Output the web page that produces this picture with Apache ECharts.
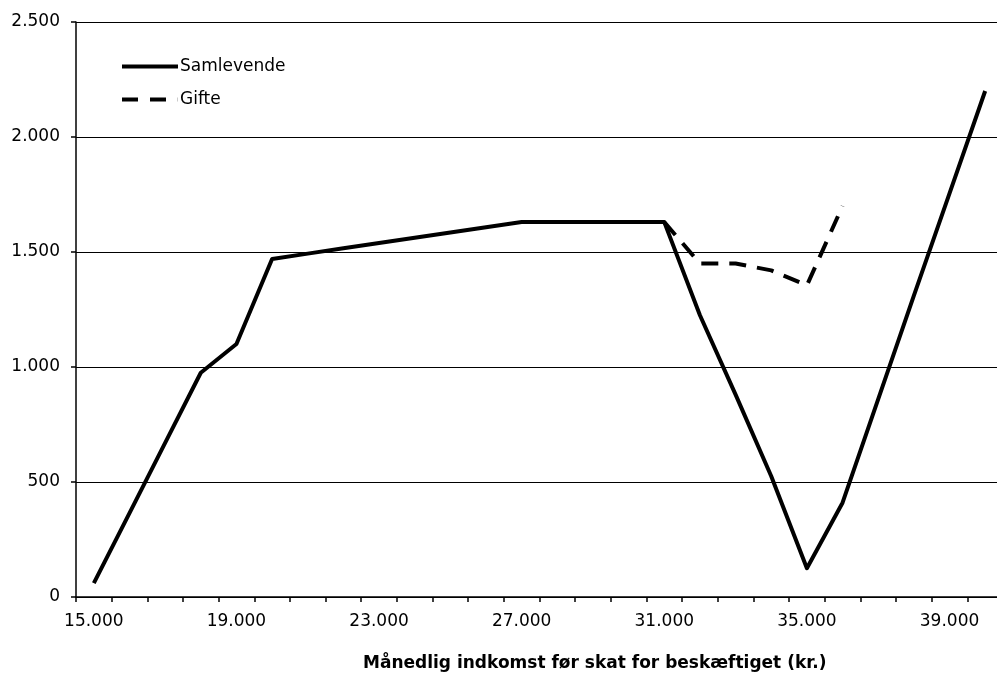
<!DOCTYPE html>
<html>
<head>
<meta charset="utf-8">
<script src="https://cdn.jsdelivr.net/npm/echarts@6/dist/echarts.min.js"></script>
<style>html,body{margin:0;padding:0;background:#fff;overflow:hidden;width:997px;height:677px;}#c{width:1003px;height:677px;}</style>
</head>
<body>
<div id="c"></div>
<script>
var categories = [15000,16000,17000,18000,19000,20000,21000,22000,23000,24000,25000,26000,27000,28000,29000,30000,31000,32000,33000,34000,35000,36000,37000,38000,39000,40000];
var samlevende = [60,365,670,975,1100,1470,1493,1516,1539,1562,1585,1608,1630,1630,1630,1630,1630,1225,880,525,125,410,860,1310,1755,2200];
var gifte = [null,null,null,null,null,null,null,null,null,null,null,null,null,null,null,null,1630,1450,1450,1420,1355,1700,null,null,null,null];
var seriesNames = ['Samlevende','Gifte'];
var xTitle = 'Månedlig indkomst før skat for beskæftiget (kr.)';

function dk(v){ return String(v).replace(/\B(?=(\d{3})+(?!\d))/g,'.'); }
var FONT = '"DejaVu Sans", Verdana, sans-serif';
var chart = echarts.init(document.getElementById('c'));
chart.setOption({
  animation:false,
  backgroundColor:'#fff',
  grid:{left:76, top:22, right:0, height:575},
  legend:{
    orient:'vertical', left:117, top:53, itemWidth:56, itemHeight:4, itemGap:16,
    textStyle:{fontFamily:FONT, fontSize:17, color:'#000', padding:[0,0,0,-3]},
    data:[
      {name:seriesNames[0], icon:'path://M0,0 H56 V4 H0 Z'},
      {name:seriesNames[1], icon:'path://M0,0 H16 V4 H0 Z M28,0 H44 V4 H28 Z M55.8,0 H56 V4 H55.8 Z'}
    ]
  },
  graphic:[{type:'text', left:363, top:655, style:{text:xTitle, font:'bold 17px '+FONT, fill:'#000'}}],
  xAxis:{
    type:'category', data:categories, boundaryGap:true,
    axisLine:{lineStyle:{color:'#000', width:1.5}},
    axisTick:{show:true, interval:0, length:5, lineStyle:{color:'#000', width:1.5}},
    axisLabel:{interval:3, margin:16, color:'#000', fontFamily:FONT, fontSize:17, formatter:function(v){return dk(v);}},
    splitLine:{show:false}
  },
  yAxis:{
    type:'value', min:0, max:2500, interval:500,
    axisLine:{show:true, lineStyle:{color:'#000', width:1.5}},
    axisTick:{show:true, length:5, lineStyle:{color:'#000', width:1.5}},
    axisLabel:{margin:16, color:'#000', fontFamily:FONT, fontSize:17, formatter:function(v){return dk(v);}},
    splitLine:{show:true, lineStyle:{color:'#000', width:1.2}}
  },
  series:[
    {name:seriesNames[0], type:'line', data:samlevende, symbol:'none', connectNulls:false,
     lineStyle:{color:'#000', width:4, join:'round'}, itemStyle:{color:'#000'}},
    {name:seriesNames[1], type:'line', data:gifte, symbol:'none', connectNulls:false,
     lineStyle:{color:'#000', width:4, type:[17,11], join:'round'}, itemStyle:{color:'#000'}}
  ]
});
</script>
</body>
</html>
